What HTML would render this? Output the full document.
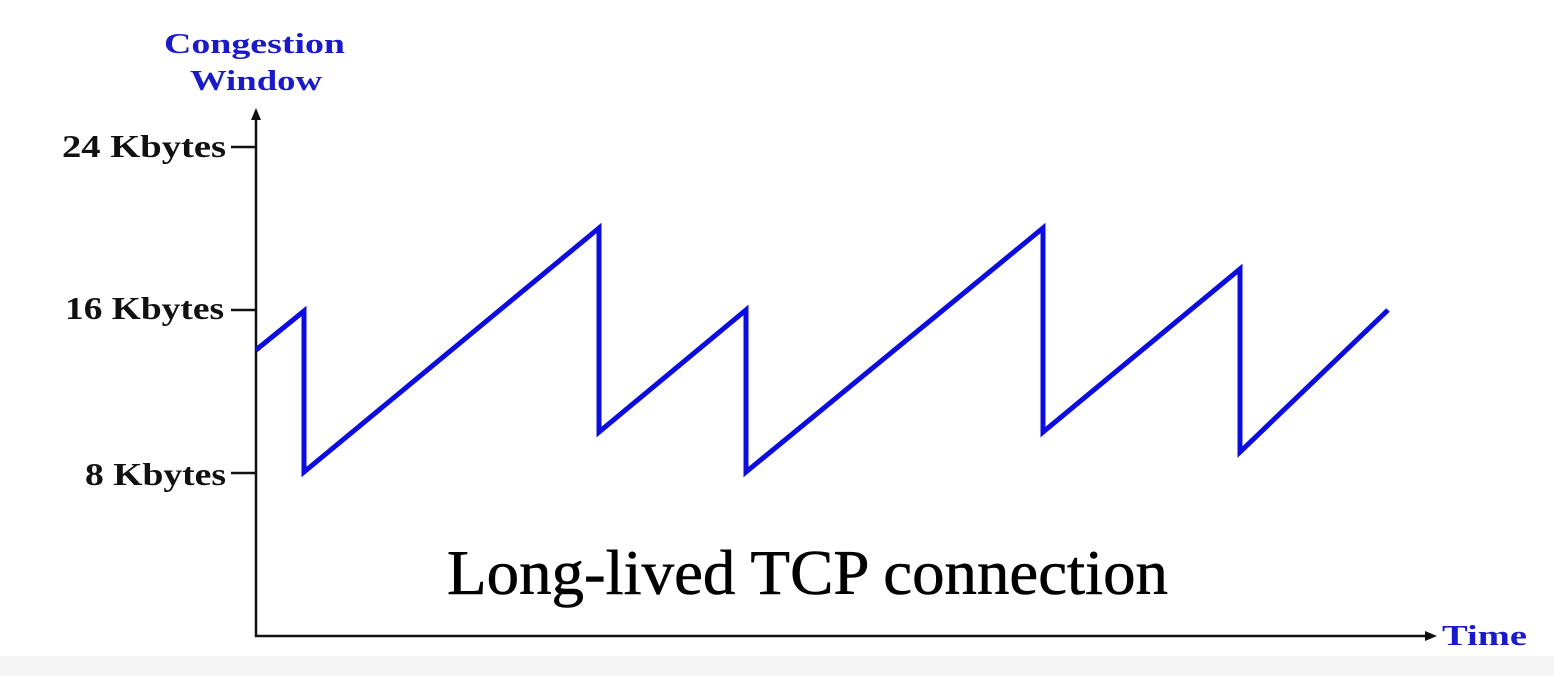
<!DOCTYPE html>
<html><head><meta charset="utf-8"><style>
html,body{margin:0;padding:0;background:#fff;}
svg{display:block;}
</style></head><body>
<svg width="1554" height="676" viewBox="0 0 1554 676" xmlns="http://www.w3.org/2000/svg">
<rect x="0" y="0" width="1554" height="676" fill="#fff"/>
<rect x="0" y="656" width="1554" height="20" fill="#f5f5f5"/>
<g font-family="'Liberation Serif', serif" font-weight="bold">
<text x="164" y="53" fill="#1a1ac8" font-size="28" textLength="181" lengthAdjust="spacingAndGlyphs">Congestion</text>
<text x="190" y="90" fill="#1a1ac8" font-size="28" textLength="132" lengthAdjust="spacingAndGlyphs">Window</text>
<text x="62" y="157" fill="#111" font-size="32" textLength="164" lengthAdjust="spacingAndGlyphs">24 Kbytes</text>
<text x="65" y="319" fill="#111" font-size="32" textLength="159" lengthAdjust="spacingAndGlyphs">16 Kbytes</text>
<text x="85" y="485" fill="#111" font-size="32" textLength="141" lengthAdjust="spacingAndGlyphs">8 Kbytes</text>
<text x="1442" y="645" fill="#1a1ac8" font-size="28" textLength="85" lengthAdjust="spacingAndGlyphs">Time</text>
</g>
<text x="447" y="594" font-family="'Liberation Serif', serif" font-size="64" fill="#000" stroke="#000" stroke-width="0.6" textLength="721" lengthAdjust="spacingAndGlyphs">Long-lived TCP connection</text>
<g stroke="#111" stroke-width="2.5" fill="none">
<line x1="256" y1="118" x2="256" y2="637"/>
<line x1="255" y1="636" x2="1428" y2="636"/>
<line x1="231" y1="147" x2="256" y2="147"/>
<line x1="231" y1="310" x2="256" y2="310"/>
<line x1="231" y1="473" x2="256" y2="473"/>
</g>
<polygon points="256,108 251,120 261,120" fill="#111"/>
<polygon points="1437,636 1425,631 1425,641" fill="#111"/>
<polyline points="256,350 304,311 304,472 599,228 599,432 746,310 746,472 1043,228 1043,432 1240,269 1240,452 1388,310" fill="none" stroke="#0c0ce0" stroke-width="5" stroke-linejoin="miter"/>
</svg>
</body></html>
